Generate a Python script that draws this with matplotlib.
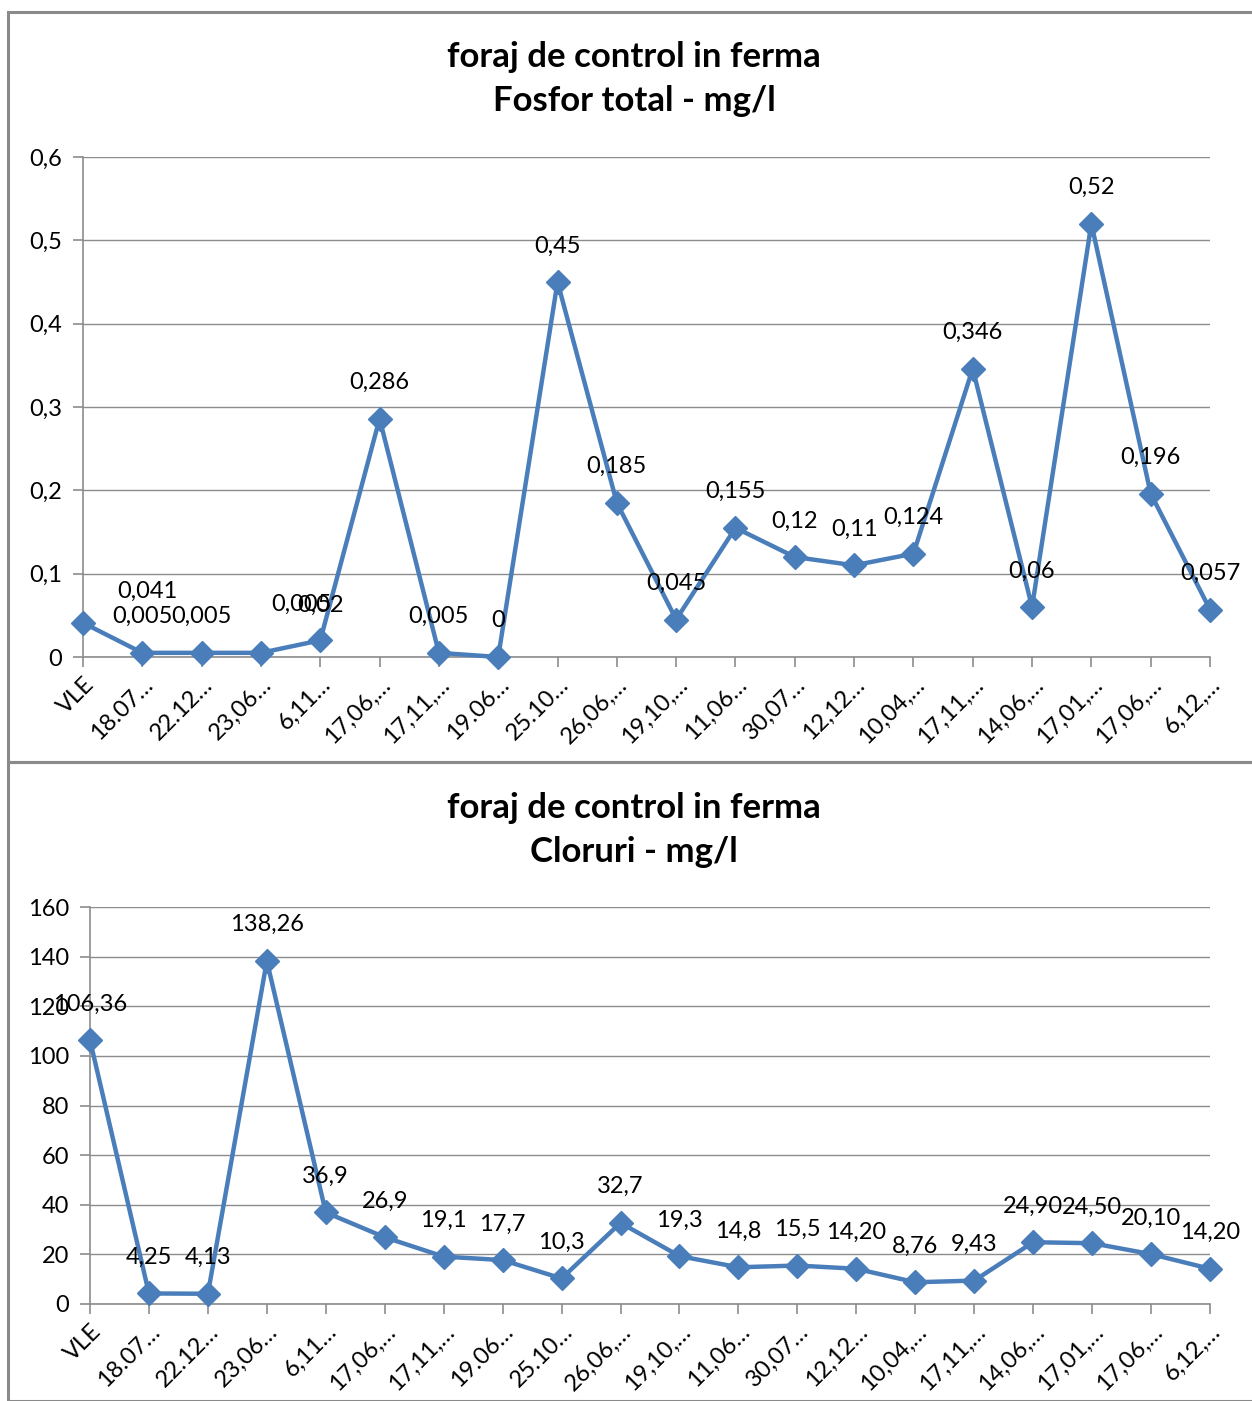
import matplotlib
matplotlib.use("Agg")
import matplotlib.pyplot as plt
from matplotlib.patches import Rectangle

categories = ["VLE", "18.07…", "22.12…", "23,06…", "6,11…", "17,06,…", "17,11,…",
              "19.06…", "25.10…", "26,06,…", "19,10,…", "11,06…", "30,07…", "12,12…",
              "10,04,…", "17,11,…", "14,06,…", "17,01,…", "17,06,…", "6,12,…"]

fosfor_values = [0.041, 0.005, 0.005, 0.005, 0.02, 0.286, 0.005, 0, 0.45, 0.185,
                 0.045, 0.155, 0.12, 0.11, 0.124, 0.346, 0.06, 0.52, 0.196, 0.057]
fosfor_labels = ["0,041", "0,005", "0,005", "0,005", "0,02", "0,286", "0,005", "0",
                 "0,45", "0,185", "0,045", "0,155", "0,12", "0,11", "0,124", "0,346",
                 "0,06", "0,52", "0,196", "0,057"]
fosfor_ticks = [0, 0.1, 0.2, 0.3, 0.4, 0.5, 0.6]
fosfor_ticklabels = ["0", "0,1", "0,2", "0,3", "0,4", "0,5", "0,6"]

cloruri_values = [106.36, 4.25, 4.13, 138.26, 36.9, 26.9, 19.1, 17.7, 10.3, 32.7,
                  19.3, 14.8, 15.5, 14.20, 8.76, 9.43, 24.90, 24.50, 20.10, 14.20]
cloruri_labels = ["106,36", "4,25", "4,13", "138,26", "36,9", "26,9", "19,1", "17,7",
                  "10,3", "32,7", "19,3", "14,8", "15,5", "14,20", "8,76", "9,43",
                  "24,90", "24,50", "20,10", "14,20"]
cloruri_ticks = [0, 20, 40, 60, 80, 100, 120, 140, 160]
cloruri_ticklabels = [str(t) for t in cloruri_ticks]

W, H = 1252, 1401
FONT = "Lato"
BLUE = "#4a7ebb"
GRID = "#8c8c8c"
FS = 17

fig = plt.figure(figsize=(W / 100, H / 100), dpi=100)
fig.patch.set_facecolor("white")

# panel borders
for (y0, y1) in [(12, 762), (762, 1401)]:
    fig.patches.append(Rectangle((8 / W, 1 - y1 / H), (W + 10 - 8) / W, (y1 - y0) / H,
                                 transform=fig.transFigure, fill=False,
                                 edgecolor="#8a8a8a", linewidth=2.2, zorder=0))


def draw(ax_rect, values, labels, ticks, ticklabels, ymax, title_lines, title_y, label_shift=None):
    ax = fig.add_axes(ax_rect)
    x = list(range(len(values)))
    ax.plot(x, values, color=BLUE, linewidth=3.2, marker="D", markersize=12,
            markerfacecolor=BLUE, markeredgecolor=BLUE, zorder=3, clip_on=False)
    ax.set_xlim(0, len(values) - 1)
    ax.set_ylim(0, ymax)
    ax.set_yticks(ticks)
    ax.set_yticklabels(ticklabels, fontsize=FS, family=FONT)
    ax.set_xticks(x)
    ax.set_xticklabels(categories, fontsize=FS, family=FONT, rotation=45,
                       ha="right", rotation_mode="anchor")
    ax.grid(axis="y", color=GRID, linewidth=1.0)
    ax.set_axisbelow(True)
    for s in ["top", "right"]:
        ax.spines[s].set_visible(False)
    for s in ["left", "bottom"]:
        ax.spines[s].set_color(GRID)
        ax.spines[s].set_linewidth(1.2)
    ax.tick_params(axis="both", color=GRID, length=7, width=1.2, direction="out")
    ax.tick_params(axis="x", pad=5)
    ax.tick_params(axis="y", pad=8)
    for i, (v, lab) in enumerate(zip(values, labels)):
        dx, dy = 0, 26
        if label_shift and i in label_shift:
            dx, dy = label_shift[i]
        ax.annotate(lab, (i, v), xytext=(dx, dy), textcoords="offset points",
                    ha="center", va="center", fontsize=FS, family=FONT, zorder=4)
    for j, t in enumerate(title_lines):
        fig.text(634 / W, 1 - title_y[j] / H, t, ha="center", va="center",
                 fontsize=25, fontweight="bold", family=FONT)
    return ax


draw([83 / W, 1 - 657 / H, (1210 - 83) / W, 500 / H], fosfor_values, fosfor_labels,
     fosfor_ticks, fosfor_ticklabels, 0.6,
     ["foraj de control in ferma", "Fosfor total - mg/l"], [57, 101],
     label_shift={0: (46, 23), 3: (29, 35), 4: (0, 25)})

draw([90 / W, 1 - 1304 / H, (1210 - 90) / W, (1304 - 907) / H], cloruri_values, cloruri_labels,
     cloruri_ticks, cloruri_ticklabels, 160,
     ["foraj de control in ferma", "Cloruri - mg/l"], [808, 852])

fig.savefig("out.png", dpi=100, facecolor="white")
